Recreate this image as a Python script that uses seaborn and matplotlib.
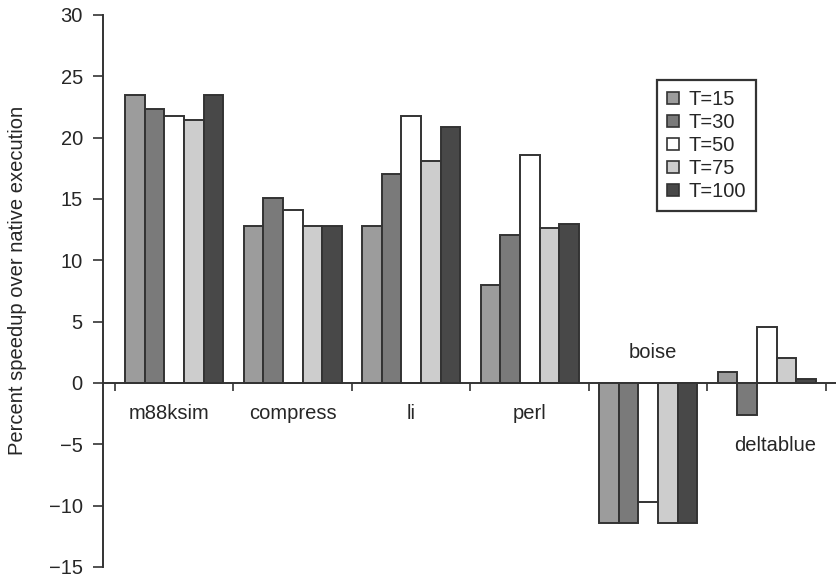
import numpy as np
import pandas as pd
import seaborn as sns
import matplotlib
matplotlib.use("Agg")
import matplotlib.pyplot as plt
from matplotlib.patches import Patch

benchmarks = ["m88ksim", "compress", "li", "perl", "boise", "deltablue"]
thresholds = ["T=15", "T=30", "T=50", "T=75", "T=100"]
t15 = [23.5, 12.8, 12.8, 8.0, -11.4, 0.9]
t30 = [22.3, 15.1, 17.0, 12.1, -11.4, -2.6]
t50 = [21.8, 14.1, 21.8, 18.6, -9.7, 4.6]
t75 = [21.4, 12.8, 18.1, 12.6, -11.4, 2.0]
t100 = [23.5, 12.8, 20.9, 13.0, -11.4, 0.3]
y_ticks = [-15, -10, -5, 0, 5, 10, 15, 20, 25, 30]

colors = ["#9c9c9c", "#7a7a7a", "#ffffff", "#cdcdcd", "#484848"]
edge = "#333333"
txt = "#262626"
fs = 14.5

sns.set_style("white")
plt.rcParams["font.family"] = ["Liberation Sans", "DejaVu Sans"]

rows = []
for t, vals in zip(thresholds, [t15, t30, t50, t75, t100]):
    for b, v in zip(benchmarks, vals):
        rows.append({"benchmark": b, "T": t, "speedup": v})
df = pd.DataFrame(rows)

fig = plt.figure(figsize=(8.37, 5.77), dpi=100)
ax = fig.add_axes([103 / 837, 1 - 567 / 577, 1 - 103 / 837, (567 - 15) / 577])

sns.barplot(data=df, x="benchmark", y="speedup", hue="T", order=benchmarks,
            hue_order=thresholds, palette=colors, edgecolor=edge, linewidth=1.4,
            width=0.83, saturation=1, legend=False, ax=ax)

ax.set_ylim(-15, 30)
ax.set_xlim(-0.5 - 12 / 118.5, 5.5 + 11 / 118.5)
ax.set_yticks(y_ticks)
ax.set_yticklabels([str(v).replace("-", "\u2212") for v in y_ticks], fontsize=fs, color=txt)
ax.set_xticks(np.arange(-0.5, 6, 1))
ax.set_xticklabels([])
ax.set_xlabel("")
ax.set_ylabel("Percent speedup over native execution", fontsize=fs, color=txt)
ax.yaxis.set_label_coords(-0.103, 0.52)

for s in ["top", "right"]:
    ax.spines[s].set_visible(False)
ax.spines["bottom"].set_position(("data", 0))
for s in ["left", "bottom"]:
    ax.spines[s].set_color(edge)
    ax.spines[s].set_linewidth(1.4)
ax.tick_params(axis="y", direction="out", length=7.5, width=1.2, color=edge, left=True, pad=7)
ax.tick_params(axis="x", direction="out", length=6, width=1.2, color=edge, bottom=True)

label_y = {"m88ksim": -2.5, "compress": -2.5, "li": -2.5, "perl": -2.5,
           "boise": 2.5, "deltablue": -5.1}
label_dx = {"m88ksim": -0.04, "deltablue": 0.07, "boise": 0.04}
for i, b in enumerate(benchmarks):
    ax.text(i + label_dx.get(b, 0), label_y[b], b, ha="center", va="center",
            fontsize=fs, color=txt)

handles = [Patch(facecolor=c, edgecolor=edge, linewidth=1.2) for c in colors]
leg = fig.legend(handles, thresholds, loc="upper left",
                 bbox_to_anchor=(657 / 837, 1 - 80 / 577), fontsize=fs,
                 handlelength=0.6, handleheight=0.6, handletextpad=0.45,
                 labelspacing=0.2, borderpad=0.5, borderaxespad=0,
                 fancybox=False, framealpha=1)
leg.get_frame().set_edgecolor(edge)
leg.get_frame().set_linewidth(1.6)
for t in leg.get_texts():
    t.set_color(txt)

fig.savefig("out.png", dpi=100)
